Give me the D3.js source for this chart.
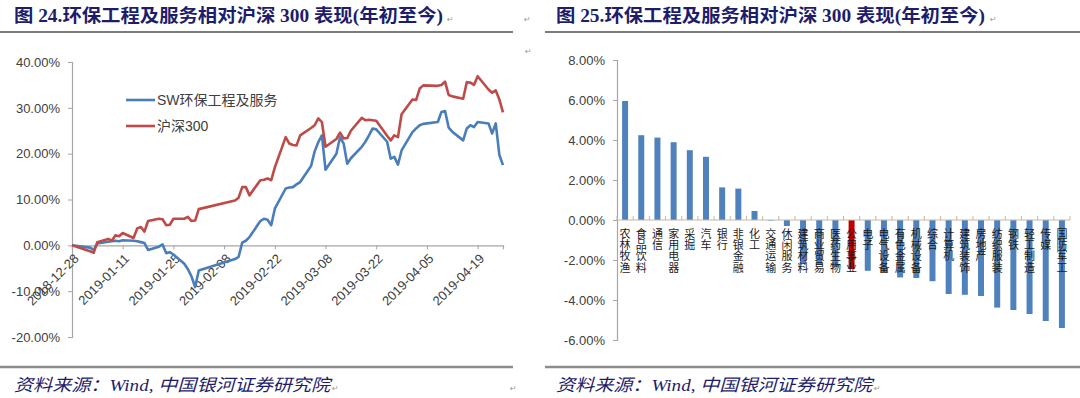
<!DOCTYPE html>
<html>
<head>
<meta charset="utf-8">
<script src="https://cdn.jsdelivr.net/npm/d3@7"></script>
<style>
  body { margin: 0; background: #fff; }
  svg { display: block; }
</style>
</head>
<body>
<div id="chart"></div>
<script>
// left chart: cumulative return since 2018-12-28 (%)
const tradeDates = [
  '2018-12-28',
  '2019-01-02','2019-01-03','2019-01-04',
  '2019-01-07','2019-01-08','2019-01-09','2019-01-10','2019-01-11',
  '2019-01-14','2019-01-15','2019-01-16','2019-01-17','2019-01-18',
  '2019-01-21','2019-01-22','2019-01-23','2019-01-24','2019-01-25',
  '2019-01-28','2019-01-29','2019-01-30','2019-01-31','2019-02-01',
  '2019-02-11','2019-02-12','2019-02-13','2019-02-14','2019-02-15',
  '2019-02-18','2019-02-19','2019-02-20','2019-02-21','2019-02-22',
  '2019-02-25','2019-02-26','2019-02-27','2019-02-28','2019-03-01',
  '2019-03-04','2019-03-05','2019-03-06','2019-03-07','2019-03-08',
  '2019-03-11','2019-03-12','2019-03-13','2019-03-14','2019-03-15',
  '2019-03-18','2019-03-19','2019-03-20','2019-03-21','2019-03-22',
  '2019-03-25','2019-03-26','2019-03-27','2019-03-28','2019-03-29',
  '2019-04-01','2019-04-02','2019-04-03','2019-04-04',
  '2019-04-08','2019-04-09','2019-04-10','2019-04-11','2019-04-12',
  '2019-04-15','2019-04-16','2019-04-17','2019-04-18','2019-04-19',
  '2019-04-22','2019-04-23','2019-04-24','2019-04-25','2019-04-26'
];
const swEnvReturn = [
  0,
  -0.5, -1.0, 0.4,
  0.8, 0.9, 1.0, 0.9, 1.1,
  1.0, 0.9, 0.7, 0.5, -1.0,
  -0.3, 0.2, -1.7, -1.5, -2.0,
  -4.0, -5.2, -6.8, -9.1, -5.5,
  -3.0, -2.5, 0.6, 1.0, 1.8,
  5.3, 5.8, 5.6, 4.4, 8.0,
  12.4, 12.6, 12.7, 13.3, 13.8,
  17.3, 20.5, 22.5, 24.0, 16.5,
  20.0, 23.6, 22.2, 17.8, 19.0,
  21.5, 22.6, 24.0, 25.5, 25.3,
  22.6, 18.9, 19.3, 17.6, 20.7,
  24.7, 25.5, 26.2, 26.5,
  26.9, 29.1, 29.3, 25.7, 24.8,
  22.9, 25.5, 26.2, 25.8, 26.9,
  26.6, 24.4, 26.6, 19.7, 17.5
];
const hs300Return = [
  0,
  -1.3, -1.6, 0.7,
  1.4, 1.0, 2.2, 2.0, 2.7,
  1.6, 3.7, 4.0, 3.0, 5.3,
  5.8, 5.7, 4.4, 4.5, 5.8,
  5.8, 6.2, 5.3, 5.4, 7.9,
  9.8, 10.4, 12.7, 12.7, 10.9,
  14.2, 14.3, 14.6, 14.2, 17.0,
  23.6, 22.2, 21.9, 21.8, 24.0,
  25.6, 26.2, 27.7, 26.9, 21.5,
  23.2, 24.6, 23.3, 23.4, 25.0,
  27.8, 27.3, 27.4, 27.3, 27.2,
  23.9, 22.9, 24.0, 23.6, 28.6,
  31.8, 31.7, 34.2, 34.9,
  34.8, 35.0, 35.7, 32.8, 32.5,
  32.0, 35.6, 35.5, 35.0, 36.9,
  34.0, 33.3, 33.8, 31.8, 29.0
];
const lineNames = ['SW环保工程及服务', '沪深300'];
const leftDateTicks = ['2018-12-28','2019-01-11','2019-01-25','2019-02-08','2019-02-22',
  '2019-03-08','2019-03-22','2019-04-05','2019-04-19'];
const leftValueTicks = [-20, -10, 0, 10, 20, 30, 40];

// right chart: industry return relative (%)
const industries = ['农林牧渔','食品饮料','通信','家用电器','采掘','汽车','银行','非银金融','化工',
  '交通运输','休闲服务','建筑材料','商业贸易','医药生物','公用事业','电子','电气设备','有色金属',
  '机械设备','综合','计算机','建筑装饰','房地产','纺织服装','钢铁','轻工制造','传媒','国防军工'];
const industryReturn = [5.95, 4.24, 4.12, 3.89, 3.49, 3.16, 1.63, 1.57, 0.45,
  -0.03, -0.3, -2.2, -2.25, -2.35, -2.45, -2.54, -2.6, -2.87,
  -2.9, -3.06, -3.7, -3.74, -3.8, -4.38, -4.5, -4.7, -5.05, -5.4];
const highlightIndustry = '公用事业';
const rightValueTicks = [-6, -4, -2, 0, 2, 4, 6, 8];

const titles = ['图 24.环保工程及服务相对沪深 300 表现(年初至今)', '图 25.环保工程及服务相对沪深 300 表现(年初至今)'];
const sourceText = '资料来源：Wind, 中国银河证券研究院';

const width = 1080, height = 398;
const navy = '#1d1d6b';
const axisGrey = '#a6a6a6';
const labelFont = "'Liberation Sans', Arial, sans-serif";
const cjkFont = "'Noto Sans CJK SC', sans-serif";
const titleFont = "'Liberation Serif', 'Noto Sans CJK SC', serif";
const pct = d => d.toFixed(2) + '%';

const svg = d3.select('#chart').append('svg')
  .attr('width', width)
  .attr('height', height)
  .style('background', '#fff');

// ---- titles, rules and source lines
const panels = [{ x0: 0, x1: 513, tx: 14, mark: 447 }, { x0: 545, x1: 1080, tx: 556, mark: 990 }];
panels.forEach((p, i) => {
  svg.append('text')
    .attr('x', p.tx).attr('y', 22)
    .attr('textLength', 429).attr('lengthAdjust', 'spacingAndGlyphs')
    .style('font-family', titleFont).style('font-weight', 'bold').style('font-size', '18px')
    .style('fill', navy)
    .text(titles[i]);
  svg.append('line')
    .attr('x1', p.x0).attr('x2', p.x1).attr('y1', 32).attr('y2', 32)
    .style('stroke', '#505050').style('stroke-width', 1.5);
  svg.append('line')
    .attr('x1', p.x0).attr('x2', p.x1).attr('y1', 367).attr('y2', 367)
    .style('stroke', '#8c8c8c').style('stroke-width', 2.5);
  svg.append('text')
    .attr('x', p.tx).attr('y', 391)
    .attr('textLength', 316).attr('lengthAdjust', 'spacingAndGlyphs')
    .style('font-family', titleFont).style('font-style', 'italic').style('font-size', '17px')
    .style('fill', navy)
    .text(sourceText);
  svg.append('text').attr('x', p.mark).attr('y', 22).text('↵')
    .style('font-size', '8px').style('fill', '#999').style('font-family', 'DejaVu Sans');
  svg.append('text').attr('x', p.tx + 318).attr('y', 391).text('↵')
    .style('font-size', '8px').style('fill', '#999').style('font-family', 'DejaVu Sans');
});
[[524, 22], [525, 54], [510, 391]].forEach(([mx, my]) => {
  svg.append('text').attr('x', mx).attr('y', my).text('↵')
    .style('font-size', '8px').style('fill', '#999').style('font-family', 'DejaVu Sans');
});

// ---- left chart: lines
const parse = d3.timeParse('%Y-%m-%d');
const xL = d3.scaleTime()
  .domain([parse(tradeDates[0]), parse(tradeDates[tradeDates.length - 1])])
  .range([72, 503]);
const yL = d3.scaleLinear().domain([-20, 40]).range([337, 62]);

const gL = svg.append('g');

const yAxisL = gL.append('g')
  .attr('transform', `translate(${xL.range()[0]},0)`)
  .call(d3.axisLeft(yL).tickValues(leftValueTicks).tickFormat(pct).tickSizeOuter(0).tickSize(4).tickPadding(8));

const xAxisL = gL.append('g')
  .attr('transform', `translate(0,${yL(0)})`)
  .call(d3.axisBottom(xL).tickValues(leftDateTicks.map(parse)).tickSizeOuter(0).tickSize(4)
    .tickFormat(d3.timeFormat('%Y-%m-%d')));
xAxisL.selectAll('text')
  .attr('text-anchor', 'end')
  .attr('dy', null).attr('y', null)
  .attr('transform', 'translate(7,14) rotate(-45)')
  .style('font-size', '13px');

[yAxisL, xAxisL].forEach(a => {
  a.select('.domain').style('stroke', axisGrey).style('stroke-width', 1.2);
  a.selectAll('.tick line').style('stroke', axisGrey);
  a.selectAll('text').style('font-family', labelFont).style('fill', '#404040');
});
yAxisL.selectAll('text').style('font-size', '13px');

const seriesColors = ['#4a7ebb', '#be4b48'];
const lineGen = d3.line()
  .x((d, i) => xL(parse(tradeDates[i])))
  .y(d => yL(d));
[swEnvReturn, hs300Return].forEach((s, k) => {
  gL.append('path')
    .datum(s)
    .attr('d', lineGen)
    .style('fill', 'none')
    .style('stroke', seriesColors[k])
    .style('stroke-width', 2.6)
    .style('stroke-linejoin', 'round');
});

// legend
lineNames.forEach((n, k) => {
  const ly = 100 + k * 26;
  gL.append('line').attr('x1', 126).attr('x2', 155).attr('y1', ly).attr('y2', ly)
    .style('stroke', seriesColors[k]).style('stroke-width', 2.6);
  gL.append('text').attr('x', 157).attr('y', ly + 5).text(n)
    .style('font-family', `${labelFont.split(',')[0]}, ${cjkFont}`).style('font-size', '14px').style('fill', '#404040');
});

// ---- right chart: bars
const xR = d3.scaleBand().domain(industries).range([617, 1070]).paddingInner(0.63).paddingOuter(0.315);
const yR = d3.scaleLinear().domain([-6, 8]).range([340, 60]);
const gR = svg.append('g');

gR.selectAll('rect.bar')
  .data(industries)
  .enter().append('rect')
  .attr('class', 'bar')
  .attr('x', d => xR(d))
  .attr('width', xR.bandwidth())
  .attr('y', (d, i) => yR(Math.max(0, industryReturn[i])))
  .attr('height', (d, i) => Math.abs(yR(industryReturn[i]) - yR(0)))
  .style('fill', d => d === highlightIndustry ? '#c00000' : '#4f81bd');

const yAxisR = gR.append('g')
  .attr('transform', `translate(${xR.range()[0]},0)`)
  .call(d3.axisLeft(yR).tickValues(rightValueTicks).tickFormat(pct).tickSizeOuter(0).tickSize(4).tickPadding(8));
yAxisR.select('.domain').style('stroke', axisGrey).style('stroke-width', 1.2);
yAxisR.selectAll('.tick line').style('stroke', axisGrey);
yAxisR.selectAll('text').style('font-family', labelFont).style('font-size', '13px').style('fill', '#404040');

// category axis at zero with boundary ticks pointing up
const step = xR.step();
gR.append('line')
  .attr('x1', xR.range()[0]).attr('x2', xR.range()[1])
  .attr('y1', yR(0)).attr('y2', yR(0))
  .style('stroke', '#c4b8aa').style('stroke-width', 1.2);
gR.selectAll('line.ctick')
  .data(d3.range(industries.length + 1))
  .enter().append('line')
  .attr('class', 'ctick')
  .attr('x1', i => xR.range()[0] + i * step).attr('x2', i => xR.range()[0] + i * step)
  .attr('y1', yR(0)).attr('y2', yR(0) - 4)
  .style('stroke', '#c4b8aa');

// vertical category labels, one upright glyph per line
gR.selectAll('text.cat')
  .data(industries)
  .enter().append('text')
  .attr('class', 'cat')
  .attr('x', d => xR(d) + xR.bandwidth() / 2)
  .attr('y', 228)
  .style('writing-mode', 'vertical-rl')
  .style('text-orientation', 'upright')
  .style('letter-spacing', '0.3px')
  .style('font-family', cjkFont)
  .style('font-size', '11px')
  .style('fill', '#1a1a1a')
  .text(d => d);
</script>
</body>
</html>
